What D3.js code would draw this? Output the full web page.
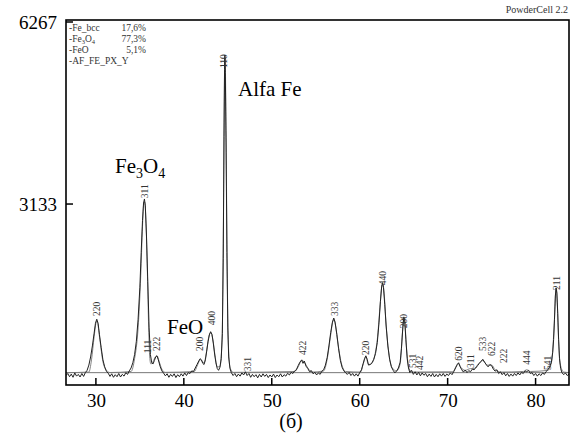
<!DOCTYPE html>
<meta charset="utf-8">
<script src="https://d3js.org/d3.v7.min.js"></script>
<style>
  body { margin: 0; background: #fff; }
  text { font-family: "Liberation Serif", "DejaVu Serif", serif; }
</style>
<div id="my_dataviz"></div>
<script>

// observed profile [2theta, counts]
var obs = [
[26.6,180],[26.8,215],[27.0,160],[27.2,205],[27.4,150],[27.6,225],[27.8,170],[28.0,200],[28.2,155],[28.4,215],[28.6,165],[28.8,230],[29.0,270],
[29.2,360],[29.4,500],[29.6,690],[29.8,910],[29.95,1080],[30.1,1150],[30.25,1080],[30.4,890],[30.6,660],[30.8,450],[31.0,330],[31.2,250],
[31.4,220],[31.6,165],[31.8,210],[32.0,150],[32.2,195],[32.4,160],[32.6,215],[32.8,155],[33.0,200],[33.2,170],[33.4,230],[33.6,200],[33.8,260],[34.0,310],
[34.2,400],[34.4,540],[34.6,770],[34.8,1150],[35.0,1700],[35.15,2300],[35.3,2850],[35.42,3150],[35.52,3220],[35.62,3100],[35.75,2600],[35.9,1800],[36.05,1000],[36.2,540],[36.35,400],[36.5,380],
[36.65,440],[36.8,500],[36.95,520],[37.1,450],[37.3,340],[37.5,260],[37.7,220],[37.9,175],[38.1,210],[38.3,150],[38.5,200],[38.7,165],[38.9,210],[39.1,145],[39.3,195],[39.5,160],[39.7,210],[39.9,170],[40.1,225],[40.3,180],[40.5,230],[40.7,215],[40.9,260],[41.1,250],[41.3,310],
[41.5,370],[41.7,430],[41.85,470],[42.0,450],[42.15,390],[42.3,370],[42.45,450],[42.6,600],[42.75,760],[42.9,880],[43.05,935],[43.2,890],[43.35,740],[43.5,550],[43.65,400],[43.8,300],[43.95,270],
[44.1,320],[44.25,470],[44.38,900],[44.48,2200],[44.57,4300],[44.63,5450],[44.67,5700],[44.72,5400],[44.8,4200],[44.9,2300],[45.0,1000],[45.1,500],[45.25,300],[45.4,230],
[45.6,180],[45.8,215],[46.0,160],[46.2,205],[46.4,170],[46.6,225],[46.8,190],[47.0,245],[47.2,180],[47.4,215],[47.6,150],[47.8,200],[48.0,160],[48.2,195],[48.4,140],[48.6,200],[48.8,155],[49.0,210],[49.2,165],[49.4,200],[49.6,145],[49.8,190],[50.0,155],[50.2,205],[50.4,145],[50.6,190],[50.8,160],[51.0,210],[51.2,155],[51.4,195],[51.6,170],[51.8,220],[52.0,190],[52.2,235],[52.4,215],
[52.6,260],[52.8,280],[53.0,350],[53.2,410],[53.4,450],[53.55,390],[53.7,430],[53.9,340],[54.1,300],[54.3,245],[54.5,265],[54.7,210],[54.9,235],[55.1,190],[55.3,225],[55.5,200],[55.7,255],
[55.9,280],[56.1,360],[56.3,490],[56.5,690],[56.7,920],[56.9,1100],[57.05,1170],[57.2,1100],[57.4,890],[57.6,640],[57.8,440],[58.0,320],[58.2,260],[58.4,225],[58.6,200],[58.8,235],[59.0,180],[59.2,215],[59.4,170],[59.6,210],[59.8,170],[60.0,230],
[60.2,280],[60.4,390],[60.55,470],[60.7,520],[60.85,460],[61.0,360],[61.2,370],[61.4,400],[61.6,460],[61.8,560],
[62.0,750],[62.2,1100],[62.35,1450],[62.5,1720],[62.6,1780],[62.7,1700],[62.85,1400],[63.0,1050],[63.2,690],[63.4,460],[63.6,330],[63.8,270],[64.0,225],[64.2,260],[64.4,310],
[64.6,410],[64.75,650],[64.9,1000],[65.02,1190],[65.12,1120],[65.25,800],[65.4,470],[65.55,310],[65.7,230],[65.9,270],[66.1,200],[66.3,245],[66.5,190],[66.7,235],[66.9,175],[67.1,225],[67.3,185],[67.5,215],[67.7,160],[67.9,205],[68.1,165],[68.3,215],[68.5,155],[68.7,200],[68.9,160],[69.1,210],[69.3,170],[69.5,215],[69.7,165],[69.9,205],[70.1,180],[70.3,225],[70.5,195],
[70.7,250],[70.9,310],[71.1,370],[71.25,400],[71.4,340],[71.6,280],[71.8,240],[72.0,275],[72.2,230],[72.4,265],[72.6,245],[72.8,290],[73.0,280],
[73.2,310],[73.4,350],[73.6,390],[73.8,425],[74.0,460],[74.2,410],[74.4,365],[74.6,330],[74.8,370],[75.0,350],[75.2,290],[75.4,255],[75.6,280],[75.8,215],[76.0,245],[76.2,195],[76.4,230],[76.6,175],[76.8,215],[77.0,165],[77.2,205],[77.4,170],[77.6,215],[77.8,180],[78.0,225],[78.2,190],[78.4,235],[78.6,215],[78.8,260],[79.0,245],[79.2,270],[79.4,215],[79.6,230],[79.8,180],[80.0,215],[80.2,170],[80.4,210],[80.6,180],[80.8,225],[81.0,200],[81.2,250],[81.4,280],[81.6,330],
[81.8,410],[81.95,580],[82.05,800],[82.15,1150],[82.25,1550],[82.33,1690],[82.42,1600],[82.52,1250],[82.62,800],[82.72,470],[82.85,300],[83.0,230],[83.2,195],[83.4,225],[83.6,180],[83.8,205]
];

// calculated profile (smooth)
var calc = [
[26.6,230],[29.2,240],[29.5,450],[29.8,850],[30.0,1080],[30.1,1120],[30.2,1080],[30.45,800],[30.8,420],[31.2,270],[31.6,232],
[34.0,250],[34.4,470],[34.8,1000],[35.1,1900],[35.3,2750],[35.45,3150],[35.55,3170],[35.7,2800],[35.85,2000],[36.0,1000],[36.12,500],[36.25,380],[36.5,420],[36.75,500],[36.95,520],[37.2,420],[37.5,290],[37.9,235],
[41.2,250],[41.5,340],[41.8,440],[41.95,455],[42.1,420],[42.3,400],[42.55,560],[42.8,820],[43.05,920],[43.3,800],[43.55,520],[43.8,330],[44.1,330],[44.35,800],[44.5,2800],[44.6,5000],[44.66,5650],[44.72,5500],[44.8,4400],[44.92,2200],[45.05,800],[45.25,320],[45.6,235],
[52.6,250],[53.0,330],[53.3,420],[53.5,440],[53.75,400],[54.1,310],[54.6,240],
[55.9,260],[56.3,460],[56.7,880],[56.95,1120],[57.05,1140],[57.2,1080],[57.5,760],[57.9,400],[58.4,250],
[60.1,240],[60.4,380],[60.7,500],[61.0,370],[61.3,380],[61.7,520],[62.0,800],[62.3,1350],[62.5,1700],[62.62,1750],[62.75,1650],[63.0,1050],[63.3,580],[63.7,310],[64.2,260],[64.6,380],[64.85,900],[65.0,1150],[65.1,1140],[65.3,700],[65.6,300],[66.0,240],
[70.6,245],[71.0,350],[71.2,390],[71.5,320],[72.0,270],[72.6,300],[73.0,300],[73.5,380],[74.0,440],[74.5,360],[75.0,360],[75.4,280],[76.0,240],[78.6,250],[79.0,280],[79.4,250],[81.4,270],[81.8,400],[82.1,1000],[82.3,1650],[82.36,1680],[82.45,1500],[82.6,850],[82.8,380],[83.2,240],[83.8,232]
];

var background = [[26.6,230],[83.8,230]];

// hkl reflections: position, level of label foot, index
var hklPos   = [30.1, 35.5, 35.85, 36.85, 41.8, 43.1, 44.5, 47.2, 53.5, 57.1, 60.7, 62.6, 65.0, 66.0, 66.8, 71.2, 72.6, 74.0, 75.0, 76.4, 79.0, 81.4, 82.35];
var hklLevel = [1170, 3200, 530, 570, 570, 1010, 5440, 220, 500, 1170, 500, 1700, 960, 275, 240, 400, 275, 570, 480, 360, 330, 240, 1620];
var hklText  = ["220","311","111","222","200","400","110","331","422","333","220","440","200","531","442","620","311","533","622","222","444","541","211"];

var xTicks = [30, 40, 50, 60, 70, 80];
var yTicks = [3133, 6267];

var legendNames = ["-Fe_bcc", "-Fe3O4", "-FeO", "-AF_FE_PX_Y"];
var legendPct   = ["17,6%", "77,3%", "5,1%", ""];

var W = 574, H = 436;
var pLeft = 66, pRight = 569, pTop = 20, pBottom = 385;

var svg = d3.select("#my_dataviz")
  .append("svg")
    .attr("width", W)
    .attr("height", H);

var x = d3.scaleLinear().domain([26.6, 83.8]).range([pLeft, pRight]);
var y = d3.scaleLinear().domain([0, 6267]).range([386, 22]);

svg.append("clipPath").attr("id", "clip")
  .append("rect").attr("x", pLeft).attr("y", pTop).attr("width", pRight - pLeft).attr("height", pBottom - pTop);

var plot = svg.append("g").attr("clip-path", "url(#clip)");

var line = d3.line().x(function(d) { return x(d[0]); }).y(function(d) { return y(d[1]); });
var smooth = d3.line().curve(d3.curveMonotoneX).x(function(d) { return x(d[0]); }).y(function(d) { return y(d[1]); });

plot.append("path").datum(background)
  .attr("d", line).attr("fill", "none").attr("stroke", "#555").attr("stroke-width", 0.8);

plot.append("path").datum(calc)
  .attr("d", smooth).attr("fill", "none").attr("stroke", "#777").attr("stroke-width", 0.9);

plot.append("path").datum(obs)
  .attr("d", line).attr("fill", "none").attr("stroke", "#222").attr("stroke-width", 1);

// hkl labels, rotated
hklPos.forEach(function(p, i) {
  var px = x(p) + 3.5, py = y(hklLevel[i]) - 2;
  svg.append("text")
    .attr("transform", "translate(" + px + "," + py + ") rotate(-90)")
    .attr("font-size", 9.5)
    .attr("fill", "#333")
    .text(hklText[i]);
});

// axes (labels from d3 axis, tick marks drawn inward)
var xAxis = svg.append("g")
  .attr("transform", "translate(0," + pBottom + ")")
  .call(d3.axisBottom(x).tickValues(xTicks).tickSize(0).tickPadding(9).tickFormat(d3.format("d")));
xAxis.select(".domain").remove();
xAxis.selectAll("text").attr("font-size", 19).attr("fill", "#000")
  .style("font-family", "Liberation Serif");

var yAxis = svg.append("g")
  .attr("transform", "translate(" + pLeft + ",0)")
  .call(d3.axisLeft(y).tickValues(yTicks).tickSize(0).tickPadding(9).tickFormat(d3.format("d")));
yAxis.select(".domain").remove();
yAxis.selectAll("text").attr("font-size", 19).attr("fill", "#000")
  .style("font-family", "Liberation Serif");

svg.selectAll(".xtick").data(xTicks).enter().append("line")
  .attr("class", "xtick")
  .attr("x1", function(d) { return x(d); }).attr("x2", function(d) { return x(d); })
  .attr("y1", pBottom).attr("y2", pBottom - 7)
  .attr("stroke", "#000").attr("stroke-width", 1.5);

svg.selectAll(".ytick").data(yTicks).enter().append("line")
  .attr("class", "ytick")
  .attr("x1", pLeft).attr("x2", pLeft + 7)
  .attr("y1", function(d) { return y(d); }).attr("y2", function(d) { return y(d); })
  .attr("stroke", "#000").attr("stroke-width", 1.5);

// frame
svg.append("rect")
  .attr("x", pLeft).attr("y", pTop).attr("width", pRight - pLeft).attr("height", pBottom - pTop)
  .attr("fill", "none").attr("stroke", "#000").attr("stroke-width", 1.6);

// legend
legendNames.forEach(function(n, i) {
  var t = svg.append("text").attr("x", 69).attr("y", 31 + i * 11)
    .attr("font-size", 9.5).attr("fill", "#333");
  if (n == "-Fe3O4") {
    t.append("tspan").text("-Fe");
    t.append("tspan").attr("font-size", 6.5).attr("dy", 1.5).text("3");
    t.append("tspan").attr("dy", -1.5).text("O");
    t.append("tspan").attr("font-size", 6.5).attr("dy", 1.5).text("4");
  } else {
    t.text(n);
  }
  svg.append("text").attr("x", 146).attr("y", 31 + i * 11)
    .attr("text-anchor", "end").attr("font-size", 9.5).attr("fill", "#333")
    .text(legendPct[i]);
});

svg.append("text").attr("x", 568).attr("y", 13)
  .attr("text-anchor", "end").attr("font-size", 10).attr("fill", "#333")
  .text("PowderCell 2.2");

// phase labels
svg.append("text").attr("x", 238).attr("y", 96).attr("font-size", 21).text("Alfa Fe");

var fe = svg.append("text").attr("x", 115).attr("y", 173).attr("font-size", 21);
fe.append("tspan").text("Fe");
fe.append("tspan").attr("font-size", 14).attr("dy", 5).text("3");
fe.append("tspan").attr("dy", -5).text("O");
fe.append("tspan").attr("font-size", 14).attr("dy", 5).text("4");

svg.append("text").attr("x", 167).attr("y", 334).attr("font-size", 21).text("FeO");

svg.append("text").attr("x", 291).attr("y", 428).attr("text-anchor", "middle")
  .attr("font-size", 20).text("(б)");

</script>
</body>
</html>
